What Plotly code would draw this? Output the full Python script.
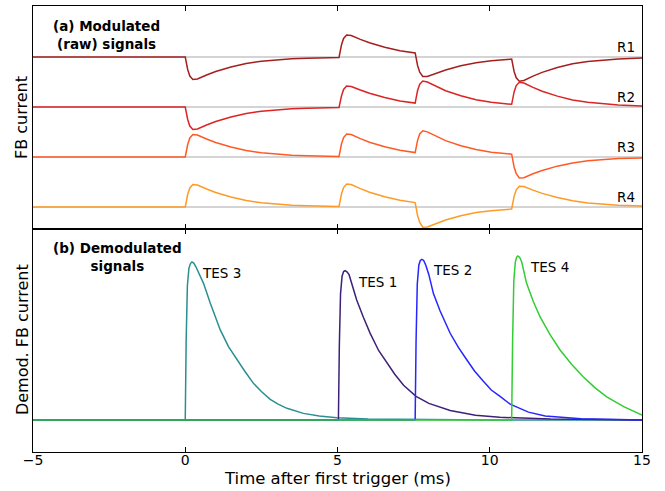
import plotly.graph_objects as go

# ---------------- Data: top panel (modulated raw signals) ----------------
t_raw = [-5, 0, 0.08, 0.15, 0.25, 0.4, 0.7, 1.0, 1.5, 2.0, 2.5, 3.0, 3.5, 4.0, 4.5,
         5.05, 5.13, 5.2, 5.3, 5.45, 5.75, 6.05, 6.55, 7.05,
         7.55, 7.63, 7.7, 7.8, 7.95, 8.25, 8.55, 9.05, 9.55, 10.05,
         10.72, 10.8, 10.87, 10.97, 11.12, 11.42, 11.72, 12.22, 12.72, 13.22, 13.72, 14.22, 15]

r1_values = [0, 0, -.25, -.38, -.45, -.44, -.36, -.29, -.2, -.13, -.085, -.055, -.036, -.024, -.016,
             -.01, .24, .37, .44, .43, .353, .284, .195, .126,
             .082, -.17, -.303, -.39, -.39, -.32, -.26, -.176, -.114, -.075,
             -.042, -.289, -.417, -.484, -.469, -.382, -.307, -.211, -.137, -.089, -.058, -.038, -.02]
r2_values = [0, 0, -.25, -.38, -.45, -.44, -.36, -.29, -.2, -.13, -.085, -.055, -.036, -.024, -.016,
             -.01, .22, .35, .42, .41, .34, .275, .19, .12,
             .078, .33, .457, .52, .5, .407, .326, .224, .146, .095,
             .054, .301, .429, .494, .479, .392, .315, .217, .141, .093, .06, .04, .02]
r3_values = [0, 0, .25, .38, .45, .44, .36, .29, .2, .13, .085, .055, .036, .024, .016,
             .01, .26, .389, .459, .448, .367, .296, .205, .134,
             .088, .333, .46, .523, .503, .41, .328, .226, .148, .097,
             .056, -.199, -.331, -.42, -.415, -.335, -.27, -.183, -.119, -.077, -.05, -.032, -.018]
r4_values = [0, 0, .25, .38, .45, .44, .36, .29, .2, .13, .085, .055, .036, .024, .016,
             .01, .26, .389, .459, .448, .367, .296, .205, .134,
             .088, -.17, -.31, -.405, -.4, -.325, -.26, -.176, -.112, -.073,
             -.04, .211, .343, .416, .411, .338, .273, .189, .123, .081, .052, .034, .018]

raw_labels = ["R1", "R2", "R3", "R4"]
raw_offsets = [3, 2, 1, 0]
raw_colors = ["#a3201f", "#dc2424", "#ff5a26", "#ff9a26"]

# ---------------- Data: bottom panel (demodulated signals) ----------------
tes3_t = [-5, 0, 0.03, 0.07, 0.12, 0.17, 0.22, 0.28, 0.35, 0.45, 0.6, 0.82, 1.0, 1.15, 1.42, 1.7,
          1.95, 2.24, 2.5, 2.79, 3.05, 3.34, 3.88, 4.4, 4.98, 6, 8, 10, 15]
tes3_h = [0, 0, .5, .85, .96, .99, 1.0, .993, .97, .93, .865, .74, .65, .57, .464, .38,
          .31, .232, .18, .131, .1, .074, .042, .026, .015, .006, .002, 0, 0]

tes1_t = [-5, 5.03, 5.06, 5.1, 5.15, 5.2, 5.25, 5.31, 5.38, 5.48, 5.63, 5.85, 6.07, 6.35, 6.62,
          6.88, 7.17, 7.58, 8.0, 8.7, 9.53, 10.33, 12, 15]
tes1_h = [0, 0, .47, .8, .91, .94, .945, .938, .92, .86, .76, .65, .55, .44, .36,
          .29, .22, .15, .105, .06, .03, .017, .006, 0]

tes2_t = [-5, 7.55, 7.58, 7.62, 7.67, 7.72, 7.77, 7.83, 7.9, 8.0, 8.15, 8.37, 8.7, 8.97, 9.25,
          9.5, 9.79, 10.05, 10.34, 10.67, 11.27, 11.82, 13, 15]
tes2_h = [0, 0, .5, .86, .98, 1.01, 1.017, 1.01, .98, .92, .80, .69, .549, .46, .38,
          .31, .245, .19, .15, .10, .05, .025, .008, 0]

tes4_t = [-5, 10.72, 10.75, 10.79, 10.84, 10.88, 10.92, 10.98, 11.05, 11.21, 11.43, 11.65, 11.98,
          12.31, 12.7, 13.07, 13.45, 13.84, 14.4, 15]
tes4_h = [0, 0, .5, .88, 1.0, 1.03, 1.038, 1.03, 1.0, .865, .75, .654, .54,
          .443, .35, .274, .205, .147, .085, .032]

tes_names = ["TES 3", "TES 1", "TES 2", "TES 4"]
tes_colors = ["#2a8f8f", "#3d2178", "#2626ff", "#33cc33"]
tes_label_pos = [(0.5, 0.932), (5.6, 0.875), (8.06, 0.949), (11.25, 0.97)]

x_ticks = [-5, 0, 5, 10, 15]
x_ticktext = ["\u22125", "0", "5", "10", "15"]

FONT = "DejaVu Sans"

fig = go.Figure()

# baselines (grey) in top panel
for off in raw_offsets:
    fig.add_trace(go.Scatter(x=[-5, 15], y=[off, off], mode="lines",
                             line=dict(color="#d4d4d4", width=1.8),
                             xaxis="x2", yaxis="y2", hoverinfo="skip", showlegend=False))

for vals, off, col in zip([r1_values, r2_values, r3_values, r4_values], raw_offsets, raw_colors):
    fig.add_trace(go.Scatter(x=t_raw, y=[off + v for v in vals], mode="lines",
                             line=dict(color=col, width=1.5),
                             xaxis="x2", yaxis="y2", showlegend=False))

for tt, hh, col in zip([tes3_t, tes1_t, tes2_t, tes4_t], [tes3_h, tes1_h, tes2_h, tes4_h], tes_colors):
    fig.add_trace(go.Scatter(x=tt, y=hh, mode="lines", line=dict(color=col, width=1.5),
                             xaxis="x", yaxis="y", showlegend=False))

annotations = []
for lab, off in zip(raw_labels, raw_offsets):
    annotations.append(dict(x=14.85, y=off + 0.2, xref="x2", yref="y2", text=lab,
                            showarrow=False, xanchor="right", yanchor="middle",
                            font=dict(family=FONT, size=13.5, color="black")))
for name, (lx, ly) in zip(tes_names, tes_label_pos):
    annotations.append(dict(x=lx, y=ly, xref="x", yref="y", text=name,
                            showarrow=False, xanchor="left", yanchor="middle",
                            font=dict(family=FONT, size=13.5, color="black")))
annotations += [
    dict(x=0.1215, y=0.936, xref="paper", yref="paper", text="<b>(a) Modulated<br>(raw) signals</b>",
         showarrow=False, xanchor="center", yanchor="middle", align="center",
         font=dict(family=FONT, size=13.5, color="black")),
    dict(x=0.138, y=0.438, xref="paper", yref="paper", text="<b>(b) Demodulated<br>signals</b>",
         showarrow=False, xanchor="center", yanchor="middle", align="center",
         font=dict(family=FONT, size=13.5, color="black")),
    dict(x=-0.018, y=0.749, xref="paper", yref="paper", text="FB current", textangle=-90,
         showarrow=False, xanchor="center", yanchor="middle",
         font=dict(family=FONT, size=16, color="black")),
    dict(x=-0.018, y=0.251, xref="paper", yref="paper", text="Demod. FB current", textangle=-90,
         showarrow=False, xanchor="center", yanchor="middle",
         font=dict(family=FONT, size=16, color="black")),
    dict(x=0.5, y=-0.0583, xref="paper", yref="paper", text="Time after first trigger (ms)",
         showarrow=False, xanchor="center", yanchor="middle",
         font=dict(family=FONT, size=16.5, color="black")),
]

axis_common = dict(showline=True, linecolor="black", linewidth=1.2, mirror="ticks",
                   showgrid=False, zeroline=False)

fig.update_layout(
    width=665, height=491,
    margin=dict(l=33, r=23, t=6, b=39),
    plot_bgcolor="white", paper_bgcolor="white",
    font=dict(family=FONT, color="black"),
    xaxis=dict(domain=[0, 1], range=[-5, 15], anchor="y", tickvals=x_ticks, ticktext=x_ticktext,
               ticks="inside", ticklen=5, tickwidth=1, tickcolor="black", ticklabelstandoff=-5,
               tickfont=dict(family=FONT, size=14, color="black"), **axis_common),
    yaxis=dict(domain=[0, 0.5], range=[-0.2025, 1.209], anchor="x", showticklabels=False,
               ticks="", showline=True, linecolor="black", linewidth=1.2, mirror=True,
               showgrid=False, zeroline=False),
    xaxis2=dict(domain=[0, 1], range=[-5, 15], anchor="y2", tickvals=x_ticks, showticklabels=False,
                ticks="inside", ticklen=5, tickwidth=1, tickcolor="black", **axis_common),
    yaxis2=dict(domain=[0.5, 1], range=[-0.44, 4.02], anchor="x2", showticklabels=False,
                ticks="", showline=True, linecolor="black", linewidth=1.2, mirror=True,
                showgrid=False, zeroline=False),
    annotations=annotations,
    showlegend=False,
)

fig.write_html("out.html", config={"displayModeBar": False})

# remove the default page margin so the figure sits at the window's corner
with open("out.html", "r", encoding="utf-8") as f:
    html = f.read()
html = html.replace("<head>", "<head><style>html,body{margin:0;padding:0;overflow:hidden;}</style>", 1)
with open("out.html", "w", encoding="utf-8") as f:
    f.write(html)
